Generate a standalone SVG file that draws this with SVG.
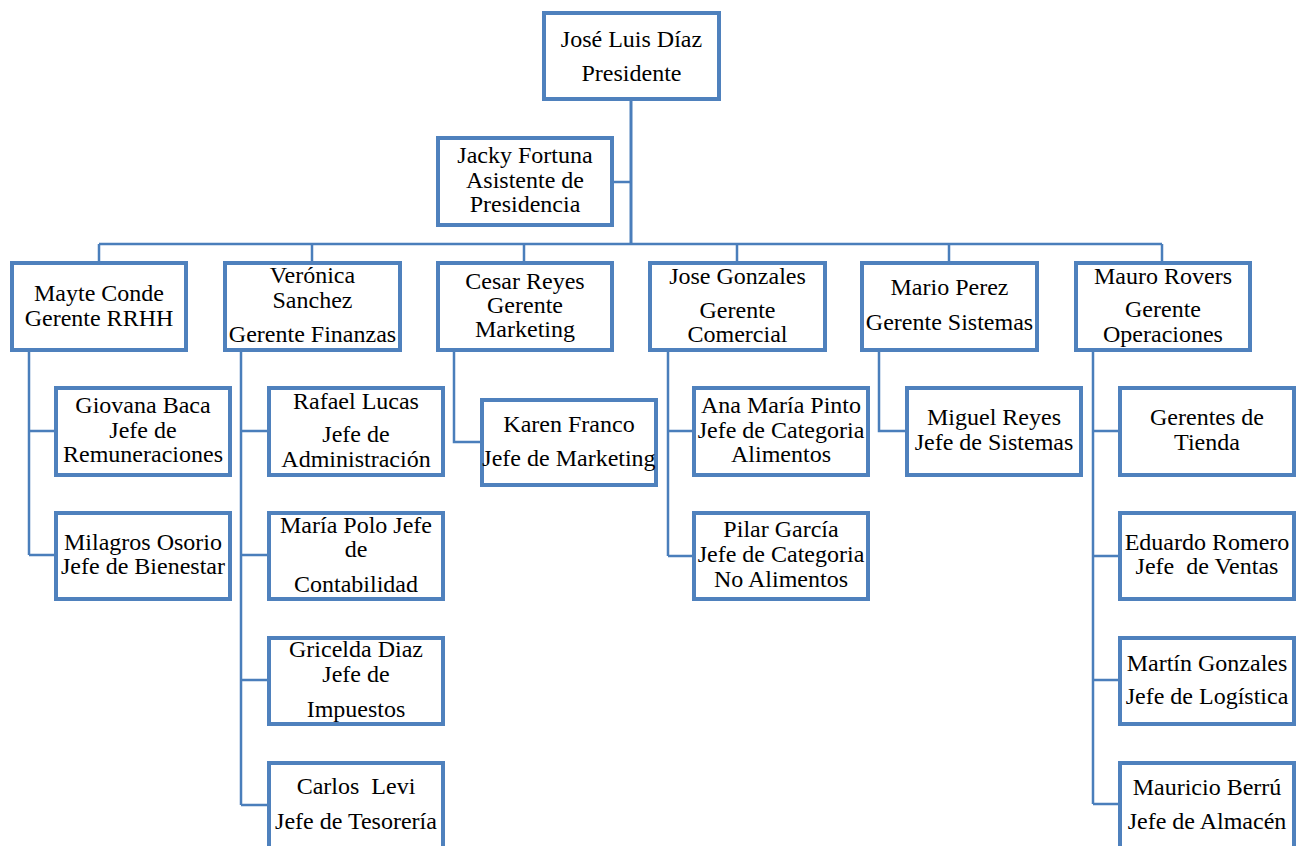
<svg xmlns="http://www.w3.org/2000/svg" width="1303" height="846" viewBox="0 0 1303 846">
<style>
.box{fill:#ffffff;stroke:#4f81bd;stroke-width:4}
.ln{fill:none;stroke:#4a7ebb;stroke-width:2.5}
.trunk{fill:none;stroke:#4a7ebb;stroke-width:3}
text{font-family:"Liberation Serif","Times New Roman",serif;font-size:24px;fill:#000;text-anchor:middle}
</style>
<rect width="1303" height="846" fill="#ffffff"/>
<g id="connectors">
<path class="trunk" d="M631 101V244"/>
<path class="ln" d="M614 182H631"/>
<path class="ln" d="M99 244H1162"/>
<path class="ln" d="M99 244V261M312 244V261M524 244V261M737 244V261M949 244V261M1162 244V261"/>
<path class="ln" d="M29 351V555M29 431H54M29 555H54"/>
<path class="ln" d="M241 351V805M241 431H267M241 555H267M241 680H267M241 805H267"/>
<path class="ln" d="M454 352V442H480"/>
<path class="ln" d="M668 352V556M668 431H692M668 556H692"/>
<path class="ln" d="M879 352V431H905"/>
<path class="ln" d="M1093 352V804M1093 431H1118M1093 556H1118M1093 680H1118M1093 804H1118"/>
</g>
<g id="jose-luis-diaz"><rect class="box" x="544" y="13" width="175" height="86"/><text x="631.5" y="47">José Luis Díaz</text><text x="631.5" y="81">Presidente</text></g>
<g id="jacky-fortuna"><rect class="box" x="438" y="138" width="174" height="87"/><text x="525" y="163">Jacky Fortuna</text><text x="525" y="188">Asistente de</text><text x="525" y="212">Presidencia</text></g>
<g id="mayte-conde"><rect class="box" x="12" y="263" width="174" height="87"/><text x="99" y="301">Mayte Conde</text><text x="99" y="326">Gerente RRHH</text></g>
<g id="veronica-sanchez"><rect class="box" x="225" y="263" width="175" height="87"/><text x="312.5" y="283">Verónica</text><text x="312.5" y="308">Sanchez</text><text x="312.5" y="342">Gerente Finanzas</text></g>
<g id="cesar-reyes"><rect class="box" x="438" y="263" width="174" height="87"/><text x="525" y="289">Cesar Reyes</text><text x="525" y="313">Gerente</text><text x="525" y="337">Marketing</text></g>
<g id="jose-gonzales"><rect class="box" x="650" y="263" width="175" height="87"/><text x="737.5" y="284">Jose Gonzales</text><text x="737.5" y="318">Gerente</text><text x="737.5" y="342">Comercial</text></g>
<g id="mario-perez"><rect class="box" x="862" y="263" width="175" height="87"/><text x="949.5" y="295">Mario Perez</text><text x="949.5" y="330">Gerente Sistemas</text></g>
<g id="mauro-rovers"><rect class="box" x="1076" y="263" width="174" height="87"/><text x="1163" y="284">Mauro Rovers</text><text x="1163" y="317">Gerente</text><text x="1163" y="342">Operaciones</text></g>
<g id="giovana-baca"><rect class="box" x="56" y="388" width="174" height="87"/><text x="143" y="413">Giovana Baca</text><text x="143" y="438">Jefe de</text><text x="143" y="462">Remuneraciones</text></g>
<g id="milagros-osorio"><rect class="box" x="56" y="513" width="174" height="86"/><text x="143" y="550">Milagros Osorio</text><text x="143" y="574">Jefe de Bienestar</text></g>
<g id="rafael-lucas"><rect class="box" x="269" y="388" width="174" height="87"/><text x="356" y="409">Rafael Lucas</text><text x="356" y="442">Jefe de</text><text x="356" y="467">Administración</text></g>
<g id="maria-polo"><rect class="box" x="269" y="513" width="174" height="86"/><text x="356" y="533">María Polo Jefe</text><text x="356" y="557">de</text><text x="356" y="592">Contabilidad</text></g>
<g id="gricelda-diaz"><rect class="box" x="269" y="638" width="174" height="86"/><text x="356" y="657">Gricelda Diaz</text><text x="356" y="682">Jefe de</text><text x="356" y="717">Impuestos</text></g>
<g id="carlos-levi"><rect class="box" x="269" y="763" width="174" height="100"/><text x="356" y="794" xml:space="preserve">Carlos  Levi</text><text x="356" y="829">Jefe de Tesorería</text></g>
<g id="karen-franco"><rect class="box" x="482" y="400" width="174" height="85"/><text x="569" y="432">Karen Franco</text><text x="569" y="466">Jefe de Marketing</text></g>
<g id="ana-maria-pinto"><rect class="box" x="694" y="388" width="174" height="87"/><text x="781" y="413">Ana María Pinto</text><text x="781" y="438">Jefe de Categoria</text><text x="781" y="462">Alimentos</text></g>
<g id="pilar-garcia"><rect class="box" x="694" y="513" width="174" height="86"/><text x="781" y="537">Pilar García</text><text x="781" y="562">Jefe de Categoria</text><text x="781" y="587">No Alimentos</text></g>
<g id="miguel-reyes"><rect class="box" x="907" y="388" width="174" height="87"/><text x="994" y="425">Miguel Reyes</text><text x="994" y="450">Jefe de Sistemas</text></g>
<g id="gerentes-de-tienda"><rect class="box" x="1120" y="388" width="174" height="87"/><text x="1207" y="425">Gerentes de</text><text x="1207" y="450">Tienda</text></g>
<g id="eduardo-romero"><rect class="box" x="1120" y="513" width="174" height="86"/><text x="1207" y="550">Eduardo Romero</text><text x="1207" y="574" xml:space="preserve">Jefe  de Ventas</text></g>
<g id="martin-gonzales"><rect class="box" x="1120" y="638" width="174" height="86"/><text x="1207" y="671">Martín Gonzales</text><text x="1207" y="704">Jefe de Logística</text></g>
<g id="mauricio-berru"><rect class="box" x="1120" y="763" width="174" height="100"/><text x="1207" y="795">Mauricio Berrú</text><text x="1207" y="829">Jefe de Almacén</text></g>
</svg>
